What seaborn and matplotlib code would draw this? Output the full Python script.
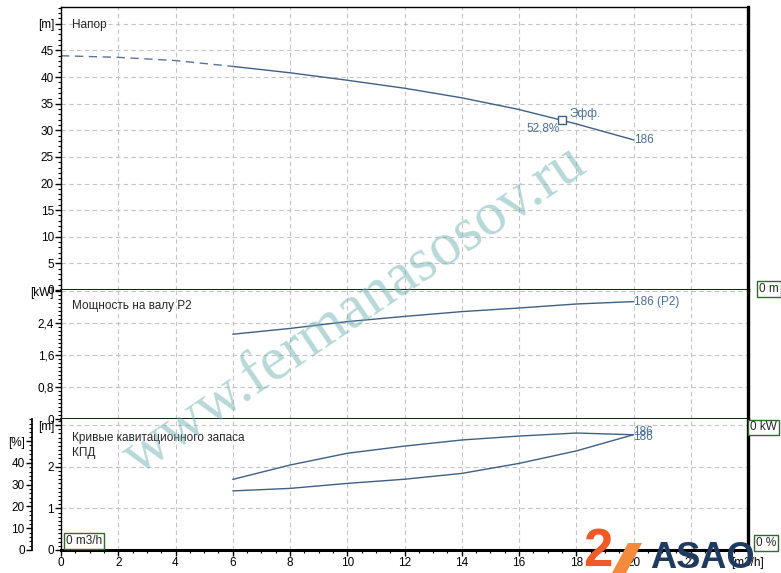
import matplotlib.pyplot as plt
import seaborn as sns
from matplotlib.ticker import MultipleLocator, FixedLocator, FixedFormatter
from matplotlib.patches import Polygon

# Style
sns.set_theme(style="white")
plt.rcParams['font.family'] = ['Liberation Sans', 'DejaVu Sans']
plt.rcParams['font.size'] = 8.5

# Data (flow in m3/h)
flow_dashed = [0, 2, 4, 6]
head_dashed = [44.0, 43.7, 43.1, 42.0]
flow = [6, 8, 10, 12, 14, 16, 18, 20]
head = [42.0, 40.8, 39.4, 37.9, 36.1, 33.9, 31.2, 28.2]
power = [2.125, 2.27, 2.44, 2.57, 2.69, 2.78, 2.88, 2.94]
eff = [32.4, 39.0, 44.4, 47.7, 50.5, 52.3, 53.7, 52.9]
npsh = [1.42, 1.48, 1.60, 1.70, 1.84, 2.08, 2.38, 2.77]
bep_flow, bep_head = 17.5, 31.9

x_ticks = [0, 2, 4, 6, 8, 10, 12, 14, 16, 18, 20, 22, 24]
x_labels = ['0', '2', '4', '6', '8', '10', '12', '14', '16', '18', '20', '22', '[m3/h]']
head_ticks = [0, 5, 10, 15, 20, 25, 30, 35, 40, 45, 50]
head_labels = ['0', '5', '10', '15', '20', '25', '30', '35', '40', '45', '[m]']
power_ticks = [0, 0.8, 1.6, 2.4, 3.2]
power_labels = ['0', '0,8', '1,6', '2,4', '[kW]']
npsh_ticks = [0, 1, 2, 3]
npsh_labels = ['0', '1', '2', '[m]']
eff_ticks = [0, 10, 20, 30, 40, 50]
eff_labels = ['0', '10', '20', '30', '40', '[%]']

curve_c = '#3f5f85'
label_c = '#4a6f96'
dark_green = '#0f2f10'
box_ec = '#2f6a2f'

fig = plt.figure(figsize=(7.81, 5.73), dpi=100)
L, W = 61 / 781, 687 / 781
ax_h = fig.add_axes([L, (573 - 290) / 573, W, 282.7 / 573])
ax_p = fig.add_axes([L, (573 - 419.3) / 573, W, 129.3 / 573], sharex=ax_h)
ax_n = fig.add_axes([L, 23 / 573, W, 130.7 / 573], sharex=ax_h)
ax_e = ax_n.twinx()

ax_h.set_xlim(0, 24)
for ax in (ax_h, ax_p, ax_n):
    ax.set_facecolor('white')
    ax.xaxis.set_major_locator(FixedLocator(x_ticks))
    ax.xaxis.set_minor_locator(MultipleLocator(0.5))
    ax.grid(True, which='major', color='#c4c4c4', linestyle=(0, (4, 3)), linewidth=0.8)
    for s in ax.spines.values():
        s.set_color('black')
        s.set_linewidth(1)
    ax.spines['right'].set_linewidth(2.4)
    ax.tick_params(which='both', direction='out', left=True, colors='black',
                   labelsize=8.5, pad=1)
    ax.tick_params(which='major', length=4, width=1)
    ax.tick_params(which='minor', length=2, width=0.8)

for ax in (ax_h, ax_p):
    ax.tick_params(axis='x', which='both', bottom=False, labelbottom=False)
    ax.spines['bottom'].set_color(dark_green)
    ax.spines['bottom'].set_linewidth(2.2)
ax_p.spines['top'].set_visible(False)
ax_n.spines['top'].set_visible(False)
ax_n.spines['bottom'].set_linewidth(2.2)
ax_n.tick_params(axis='x', which='both', bottom=True)
ax_n.xaxis.set_major_formatter(FixedFormatter(x_labels))

# Head panel
sns.lineplot(x=flow_dashed, y=head_dashed, ax=ax_h, color='#5a7598', lw=1, linestyle=(0, (6, 4)))
sns.lineplot(x=flow, y=head, ax=ax_h, color=curve_c, lw=1)
sns.scatterplot(x=[bep_flow], y=[bep_head], ax=ax_h, marker='s', s=36,
                facecolor='white', edgecolor=curve_c, linewidth=1, zorder=5)
ax_h.set_ylim(0, 53.1)
ax_h.yaxis.set_major_locator(FixedLocator(head_ticks))
ax_h.yaxis.set_major_formatter(FixedFormatter(head_labels))
ax_h.yaxis.set_minor_locator(MultipleLocator(1))
ax_h.text(0.016, 0.937, 'Напор', transform=ax_h.transAxes, va='center', ha='left')
ax_h.annotate('Эфф.', (bep_flow, bep_head), xytext=(7, 6), textcoords='offset pixels',
              ha='left', va='center', color=label_c)
ax_h.annotate('52,8%', (bep_flow, bep_head), xytext=(-2, -2), textcoords='offset pixels',
              ha='right', va='top', color=label_c)
ax_h.annotate('186', (flow[-1], head[-1]), xytext=(1, 0), textcoords='offset pixels',
              ha='left', va='center', color=label_c)

# Power panel
sns.lineplot(x=flow, y=power, ax=ax_p, color=curve_c, lw=1)
ax_p.set_ylim(0, 3.23)
ax_p.yaxis.set_major_locator(FixedLocator(power_ticks))
ax_p.yaxis.set_major_formatter(FixedFormatter(power_labels))
ax_p.yaxis.set_minor_locator(MultipleLocator(0.1))
ax_p.text(0.016, 0.876, 'Мощность на валу P2', transform=ax_p.transAxes, va='center', ha='left')
ax_p.annotate('186 (P2)', (flow[-1], power[-1]), xytext=(0, 0), textcoords='offset pixels',
              ha='left', va='center', color=label_c)

# NPSH / efficiency panel
sns.lineplot(x=flow, y=npsh, ax=ax_n, color=curve_c, lw=1)
ax_n.set_ylim(0, 3.14)
ax_n.yaxis.set_major_locator(FixedLocator(npsh_ticks))
ax_n.yaxis.set_major_formatter(FixedFormatter(npsh_labels))
ax_n.yaxis.set_minor_locator(MultipleLocator(0.1))
ax_n.text(0.016, 0.80, 'Кривые кавитационного запаса\nКПД', transform=ax_n.transAxes,
          va='center', ha='left', linespacing=1.3)
ax_n.text(0.007, 0.069, '0 m3/h', transform=ax_n.transAxes, va='center', ha='left',
          bbox=dict(boxstyle='square,pad=0.15', fc='white', ec=box_ec, lw=1))
ax_n.annotate('186', (flow[-1], npsh[-1]), xytext=(0, -2), textcoords='offset pixels',
              ha='left', va='center', color=label_c)

sns.lineplot(x=flow, y=eff, ax=ax_e, color=curve_c, lw=1)
ax_e.set_ylim(0, 60)
ax_e.yaxis.set_ticks_position('left')
ax_e.yaxis.set_label_position('left')
ax_e.spines['left'].set_position(('axes', -0.0427))
for s in ('right', 'top', 'bottom'):
    ax_e.spines[s].set_visible(False)
ax_e.spines['left'].set_color('black')
ax_e.yaxis.set_major_locator(FixedLocator(eff_ticks))
ax_e.yaxis.set_major_formatter(FixedFormatter(eff_labels))
ax_e.yaxis.set_minor_locator(MultipleLocator(2))
ax_e.tick_params(which='both', direction='out', colors='black', labelsize=8.5, pad=1)
ax_e.tick_params(which='major', length=4, width=1)
ax_e.tick_params(which='minor', length=2, width=0.8)
ax_e.grid(False)
ax_e.annotate('186', (flow[-1], eff[-1]), xytext=(0, 3), textcoords='offset pixels',
              ha='left', va='center', color=label_c)

for ax in (ax_h, ax_p, ax_n, ax_e):
    ax.set_xlabel('')
    ax.set_ylabel('')

# Right-side value boxes
box = dict(boxstyle='square,pad=0.15', fc='white', ec=box_ec, lw=1)
fig.text(759 / 781, (573 - 289) / 573, '0 m', va='center', ha='left', bbox=box, zorder=12)
fig.text(750 / 781, (573 - 427.5) / 573, '0 kW', va='center', ha='left', bbox=box, zorder=12)
fig.text(756 / 781, (573 - 543) / 573, '0 %', va='center', ha='left', bbox=box, zorder=12)

# Watermark
fig.text(355 / 781, 1 - 310 / 573, 'www.fermanasosov.ru', rotation=34, ha='center', va='center',
         fontsize=44, family='Liberation Serif', color='#72b2b2', alpha=0.5, zorder=10)

# Logo
fig.text(583 / 781, -4 / 573, '2', fontsize=38, fontweight='bold', color='#f05a28',
         ha='left', va='bottom', zorder=11)
fig.patches.append(Polygon([[612 / 781, 0], [628 / 781, 30 / 573], [642 / 781, 30 / 573], [626 / 781, 0]],
                           closed=True, transform=fig.transFigure, fc='#f58a3c', ec='none', zorder=11))
fig.text(650 / 781, -3 / 573, 'ASAO', fontsize=26, fontweight='bold', color='#1f3a5f',
         ha='left', va='bottom', zorder=11)

plt.savefig('out.png', dpi=100)
